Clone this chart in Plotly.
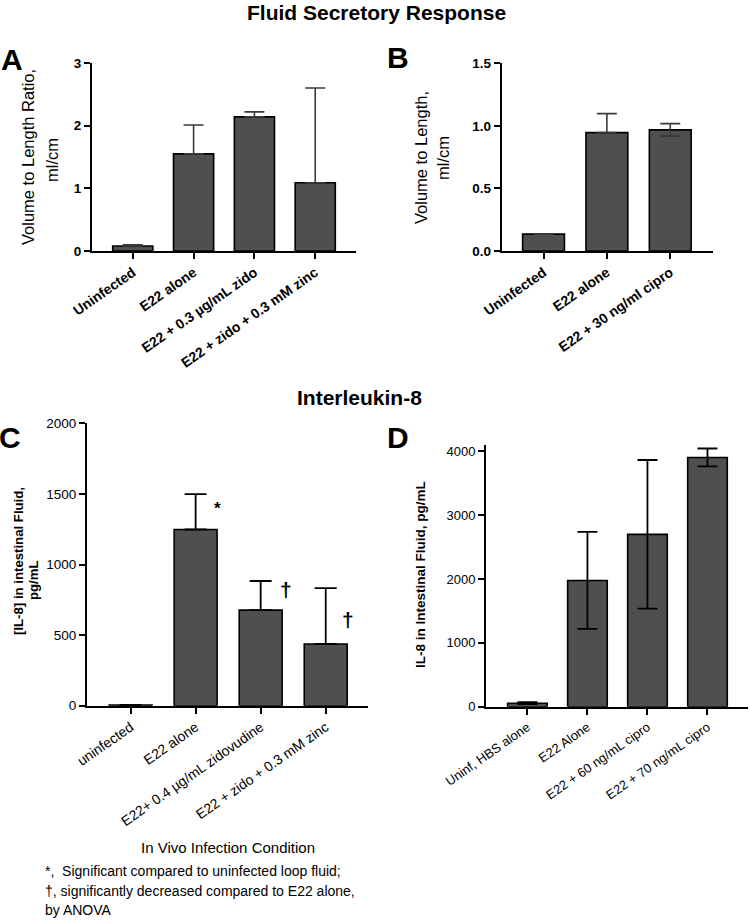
import plotly.graph_objects as go

# ---------------- data ----------------
a_cats = ["Uninfected", "E22 alone", "E22 + 0.3 µg/mL zido", "E22 + zido + 0.3 mM zinc"]
a_vals = [0.08, 1.55, 2.14, 1.09]
a_err_up = [0.02, 0.46, 0.08, 1.51]

b_cats = ["Uninfected", "E22 alone", "E22 + 30 ng/ml cipro"]
b_vals = [0.135, 0.946, 0.968]
b_err_up = [0.0, 0.152, 0.05]
b_err_dn = [0.0, 0.0, 0.05]

c_cats = ["uninfected", "E22 alone", "E22+ 0.4 µg/mL zidovudine", "E22 + zido + 0.3 mM zinc"]
c_vals = [5, 1248, 677, 437]
c_err_up = [0, 250, 206, 395]
c_marks = ["", "*", "†", "†"]

d_cats = ["Uninf, HBS alone", "E22 Alone", "E22 + 60 ng/mL cipro", "E22 + 70 ng/mL cipro"]
d_vals = [55, 1978, 2700, 3905]
d_err = [15, 760, 1165, 140]

FONT = "Liberation Sans, Arial, sans-serif"
BAR = "#4f4f4f"
W, H = 750, 920


def px(x):
    return x / W


def py(y):
    return 1 - y / H


fig = go.Figure()

bar_common = dict(marker=dict(color=BAR, line=dict(color="black", width=1.6)),
                  width=0.66, showlegend=False, hoverinfo="skip")

fig.add_trace(go.Bar(x=a_cats, y=a_vals, xaxis="x", yaxis="y",
                     error_y=dict(type="data", array=a_err_up, arrayminus=[0] * 4, symmetric=False,
                                  color="#3a3a3a", thickness=1.6, width=10),
                     **bar_common))
fig.add_trace(go.Bar(x=b_cats, y=b_vals, xaxis="x2", yaxis="y2",
                     error_y=dict(type="data", array=b_err_up, arrayminus=b_err_dn, symmetric=False,
                                  color="#3a3a3a", thickness=1.6, width=10),
                     **bar_common))
fig.add_trace(go.Bar(x=c_cats, y=c_vals, xaxis="x3", yaxis="y3",
                     error_y=dict(type="data", array=c_err_up, arrayminus=[0] * 4, symmetric=False,
                                  color="black", thickness=1.8, width=11),
                     **bar_common))
fig.add_trace(go.Bar(x=d_cats, y=d_vals, xaxis="x4", yaxis="y4",
                     error_y=dict(type="data", array=d_err, symmetric=True,
                                  color="black", thickness=1.8, width=10),
                     **bar_common))

ax_common = dict(showline=True, linecolor="black", linewidth=2, ticks="outside",
                 ticklen=6, tickwidth=2, tickcolor="black", showgrid=False, zeroline=False,
                 fixedrange=True, automargin=False)

bold_tick = dict(family=FONT, size=13.5, color="black", weight="bold")
bold_cat = dict(family=FONT, size=14, color="black", weight="bold")

fig.update_layout(
    width=W, height=H, autosize=False,
    margin=dict(l=0, r=0, t=0, b=0, pad=0),
    paper_bgcolor="white", plot_bgcolor="white",
    font=dict(family=FONT, color="black"),
    xaxis=dict(domain=[px(92), px(356)], anchor="y", range=[-0.67, 3.67], tickangle=-35,
               tickfont=bold_cat, **ax_common),
    yaxis=dict(domain=[py(251), py(63)], anchor="x", range=[0, 3], dtick=1,
               tickfont=bold_tick, **ax_common),
    xaxis2=dict(domain=[px(501.7), px(712.7)], anchor="y2", range=[-0.66, 2.67], tickangle=-35,
                tickfont=bold_cat, **ax_common),
    yaxis2=dict(domain=[py(251), py(63.3)], anchor="x2", range=[0, 1.5], dtick=0.5, tickformat=".1f",
                tickfont=bold_tick, **ax_common),
    xaxis3=dict(domain=[px(87), px(368)], anchor="y3", range=[-0.67, 3.65], tickangle=-35,
                tickfont=dict(family=FONT, size=14, color="black"), **ax_common),
    yaxis3=dict(domain=[py(705.7), py(423.3)], anchor="x3", range=[0, 2000], dtick=500,
                tickfont=dict(family=FONT, size=13.5, color="black"), **ax_common),
    xaxis4=dict(domain=[px(486), px(747.7)], anchor="y4", range=[-0.69, 3.67], tickangle=-35,
                tickfont=dict(family=FONT, size=13, color="black"), **ax_common),
    yaxis4=dict(domain=[py(706.7), py(445)], anchor="x4", range=[0, 4100], tickvals=[0, 1000, 2000, 3000, 4000],
                tickfont=dict(family=FONT, size=13, color="black"), **ax_common),
)

ann = []


def add(text, x, y, size, bold=False, angle=0, xanchor="center", yanchor="middle", align="center"):
    ann.append(dict(text=text, x=px(x), y=py(y), xref="paper", yref="paper", showarrow=False,
                    textangle=angle, xanchor=xanchor, yanchor=yanchor, align=align,
                    font=dict(family=FONT, size=size, color="black", weight="bold" if bold else "normal")))


# titles
add("Fluid Secretory Response", 376, 13, 21, bold=True)
add("Interleukin-8", 359, 397, 21, bold=True)
# panel letters
add("A", 12, 60, 30, bold=True)
add("B", 398, 57, 30, bold=True)
add("C", 10, 437, 30, bold=True)
add("D", 398, 437, 30, bold=True)
# y axis titles
add("Volume to Length Ratio,", 28, 157, 16.5, angle=-90)
add("ml/cm", 52, 160, 16.5, angle=-90)
add("Volume to Length,", 421, 158, 16.5, angle=-90)
add("ml/cm", 443, 158, 16.5, angle=-90)
add("[IL-8] in intestinal Fluid,", 18, 561, 13.2, bold=True, angle=-90)
add("pg/mL", 33, 580, 13.2, bold=True, angle=-90)
add("IL-8 in Intestinal Fluid, pg/mL", 420, 575, 13.5, bold=True, angle=-90)
# x title and footnotes
add("In Vivo Infection Condition", 228, 847, 15)
add("*,  Significant compared to uninfected loop fluid;", 43, 871, 14, xanchor="left", align="left")
add("†, significantly decreased compared to E22 alone,", 43, 891, 14, xanchor="left", align="left")
add("by ANOVA", 43, 910, 14, xanchor="left", align="left")

# significance markers in panel C (data coords)
c_mark_pos = [(None, None), (1.33, 1400), (2.39, 826), (3.35, 614)]
for m, (mx, my), sz in zip(c_marks, c_mark_pos, [0, 17, 21, 21]):
    if m:
        ann.append(dict(text=m, x=mx, y=my, xref="x3", yref="y3", showarrow=False,
                        font=dict(family=FONT, size=sz, color="black", weight="bold")))

fig.update_layout(annotations=ann)
fig.write_html("out.html", config={"displayModeBar": False},
               post_script="document.body.style.margin='0';document.body.style.overflow='hidden';")
